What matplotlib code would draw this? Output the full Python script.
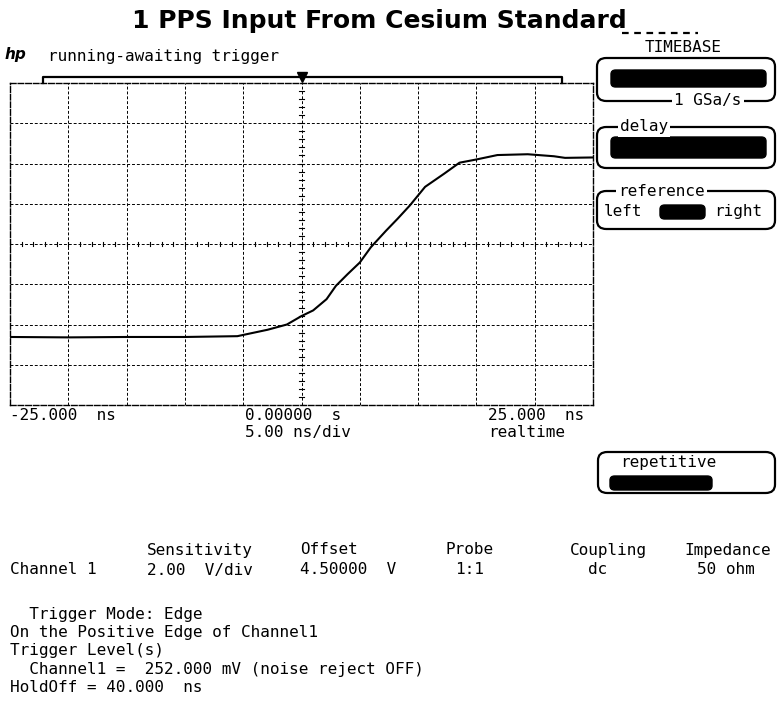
import matplotlib
matplotlib.use("Agg")
import matplotlib.pyplot as plt
import numpy as np
from matplotlib.patches import FancyBboxPatch

# Trace (time in ns, level in V)
t_ns = [-25.0, -20.0, -15.0, -10.0, -5.5, -2.9, -1.25, 0.0, 1.0, 2.15, 2.95, 3.95,
        5.0, 5.95, 7.25, 8.25, 9.3, 10.6, 12.25, 13.55, 15.0, 16.8, 19.4, 21.65, 22.6, 25.0]
v_volts = [-0.12, -0.14, -0.12, -0.12, -0.08, 0.24, 0.5, 0.92, 1.2, 1.76, 2.42, 3.0,
           3.58, 4.34, 5.16, 5.76, 6.42, 7.34, 8.0, 8.54, 8.7, 8.92, 8.96, 8.86, 8.78, 8.8]

# scope settings
ns_per_div = 5.0
v_per_div = 2.0
offset_v = 4.5
n_xdiv, n_ydiv = 10, 8

header_cols = ['Sensitivity', 'Offset', 'Probe', 'Coupling', 'Impedance']
value_cols = ['2.00  V/div', '4.50000  V', '1:1', 'dc', '50 ohm']
trigger_lines = ['  Trigger Mode: Edge',
                 'On the Positive Edge of Channel1',
                 'Trigger Level(s)',
                 '  Channel1 =  252.000 mV (noise reject OFF)',
                 'HoldOff = 40.000  ns']

W, H = 778, 703
def fx(x):
    return x / W
def fy(y):
    return 1 - y / H

mono = 'DejaVu Sans Mono'
fs = 11.5

fig = plt.figure(figsize=(W / 100, H / 100), dpi=100)
ax = fig.add_axes([fx(10), fy(405), (593 - 10) / W, (405 - 83) / H])

t0 = -n_xdiv / 2 * ns_per_div
t1 = n_xdiv / 2 * ns_per_div
v0 = offset_v - n_ydiv / 2 * v_per_div
v1 = offset_v + n_ydiv / 2 * v_per_div
ax.set_xlim(t0, t1)
ax.set_ylim(v0, v1)
ax.set_xticks([])
ax.set_yticks([])

# graticule
for x in np.arange(t0 + ns_per_div, t1, ns_per_div):
    ax.axvline(x, color='black', lw=0.7, ls=(0, (3, 2)))
for y in np.arange(v0 + v_per_div, v1, v_per_div):
    ax.axhline(y, color='black', lw=0.7, ls=(0, (3, 2)))
for s in ax.spines.values():
    s.set_linestyle((0, (4, 1.5)))
    s.set_linewidth(1.0)

# small ticks on the centre lines
for x in np.arange(t0, t1, ns_per_div / 5):
    ax.plot([x, x], [offset_v - 0.12, offset_v + 0.12], color='black', lw=0.8)
for y in np.arange(v0, v1, v_per_div / 5):
    ax.plot([-0.25, 0.25], [y, y], color='black', lw=0.8)

# trace
ax.plot(t_ns, v_volts, color='black', lw=1.5, solid_joinstyle='round')

# memory bracket and trigger marker above the grid
tr = ax.get_xaxis_transform()
ax.plot([-22.2, -22.2, 22.3, 22.3], [1.0, 1.019, 1.019, 1.0], color='black',
        lw=1.6, transform=tr, clip_on=False)
ax.plot([0], [1.019], marker='v', color='black', ms=7, transform=tr, clip_on=False)

# title and header
fig.text(fx(379), fy(21), '1 PPS Input From Cesium Standard', ha='center', va='center',
         fontsize=18, fontweight='bold', family='DejaVu Sans')
fig.text(fx(5), fy(55), 'hp', ha='left', va='center', fontsize=11, style='italic',
         fontweight='bold', family='DejaVu Sans')
fig.text(fx(48), fy(56), 'running-awaiting trigger', ha='left', va='center',
         fontsize=fs, family=mono)

# time labels under the grid
fig.text(fx(10), fy(415), '-25.000  ns', ha='left', va='center', fontsize=fs, family=mono)
fig.text(fx(245), fy(415), '0.00000  s', ha='left', va='center', fontsize=fs, family=mono)
fig.text(fx(245), fy(433), '5.00 ns/div', ha='left', va='center', fontsize=fs, family=mono)
fig.text(fx(488), fy(415), '25.000  ns', ha='left', va='center', fontsize=fs, family=mono)
fig.text(fx(488), fy(433), 'realtime', ha='left', va='center', fontsize=fs, family=mono)

# right-hand softkey panel
def panel(x0, y0, x1, y1):
    p = FancyBboxPatch((fx(x0), fy(y1)), fx(x1) - fx(x0), fy(y0) - fy(y1),
                       boxstyle='round,pad=0,rounding_size=0.012',
                       transform=fig.transFigure, fill=False, lw=1.6, ec='black')
    fig.add_artist(p)

def bar(x0, y0, x1, y1):
    p = FancyBboxPatch((fx(x0), fy(y1)), fx(x1) - fx(x0), fy(y0) - fy(y1),
                       boxstyle='round,pad=0,rounding_size=0.006',
                       transform=fig.transFigure, fc='black', ec='black', lw=1)
    fig.add_artist(p)

white = dict(facecolor='white', edgecolor='none', pad=1.5)

fig.add_artist(plt.Line2D([fx(622), fx(698)], [fy(33), fy(33)], color='black', lw=1.6,
                          ls=(0, (3, 2.5)), transform=fig.transFigure))
fig.text(fx(683), fy(48), 'TIMEBASE', ha='center', va='center', fontsize=fs, family=mono)
panel(597, 58, 775, 101)
bar(611, 70, 766, 87)
fig.text(fx(708), fy(101), '1 GSa/s', ha='center', va='center', fontsize=fs,
         family=mono, bbox=white)

panel(597, 127, 775, 168)
fig.text(fx(620), fy(127), 'delay', ha='left', va='center', fontsize=fs,
         family=mono, bbox=white)
bar(611, 137, 766, 158)

panel(597, 191, 775, 229)
fig.text(fx(618), fy(191), 'reference', ha='left', va='center', fontsize=fs,
         family=mono, bbox=white)
fig.text(fx(604), fy(212), 'left', ha='left', va='center', fontsize=fs, family=mono)
bar(660, 205, 705, 219)
fig.text(fx(714), fy(212), 'right', ha='left', va='center', fontsize=fs, family=mono)

panel(598, 452, 775, 493)
fig.text(fx(620), fy(463), 'repetitive', ha='left', va='center', fontsize=fs, family=mono)
bar(610, 476, 712, 490)

# channel table
col_x = [147, 300, 445, 570, 684]
val_x = [147, 300, 455, 588, 697]
for x, s in zip(col_x, header_cols):
    fig.text(fx(x), fy(550), s, ha='left', va='center', fontsize=fs, family=mono)
fig.text(fx(10), fy(570), 'Channel 1', ha='left', va='center', fontsize=fs, family=mono)
for x, s in zip(val_x, value_cols):
    fig.text(fx(x), fy(570), s, ha='left', va='center', fontsize=fs, family=mono)

# trigger description
for i, s in enumerate(trigger_lines):
    fig.text(fx(10), fy(614 + 18.5 * i), s, ha='left', va='center', fontsize=fs, family=mono)

fig.savefig('out.png', dpi=100)
